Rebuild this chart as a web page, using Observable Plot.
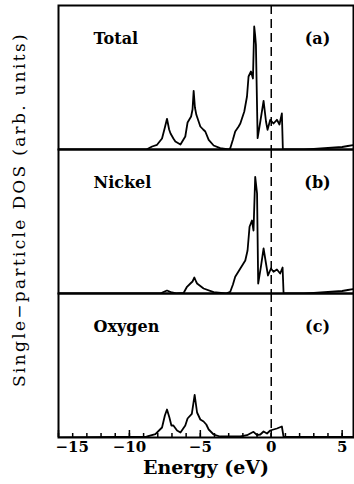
<!DOCTYPE html>
<html><head><meta charset="utf-8">
<script src="https://cdn.jsdelivr.net/npm/d3@7"></script>
<script src="https://cdn.jsdelivr.net/npm/@observablehq/plot@0.6"></script>
<style>html,body{margin:0;padding:0;background:#fff;overflow:hidden}
.ylab text{letter-spacing:2.3px}</style>
</head><body><div id="chart"></div>
<script>
// Panels
const panels = ["Total", "Nickel", "Oxygen"];
const panelTags = ["(a)", "(b)", "(c)"];

// Energy (eV) and DOS (arb. units)
const totalE = [-15, -8.8, -8.4, -8.05, -7.7, -7.5, -7.35, -7.2, -7.1, -6.9, -6.76, -6.4, -6.06, -5.9, -5.65, -5.55, -5.47, -5.38, -5.28, -5.0, -4.8, -4.65, -4.41, -4.06, -3.6, -3.0, -2.89, -2.7, -2.54, -2.3, -2.18, -1.9, -1.71, -1.6, -1.43, -1.29, -1.2, -1.14, -1.08, -0.96, -0.77, -0.54, -0.37, -0.26, -0.07, 0.16, 0.4, 0.58, 0.75, 0.82, 2.3, 3.0, 3.5, 4.0, 4.5, 5.0, 5.4, 5.8];
const totalDOS = [0, 0, 3, 4.7, 11, 22, 30.7, 20, 16, 11, 8, 5, 13, 27, 33, 40, 58.7, 42, 34.7, 23, 20, 18, 9.7, 4, 1.3, 0, 1.3, 10, 18, 23, 26, 38, 53, 73, 78, 71, 123, 115, 104.7, 11.3, 28, 48.7, 28, 19.7, 29.7, 26, 29.7, 25, 36, 0, 0, 0.5, 1, 1.5, 2, 2.5, 3.5, 4.5];

const nickelE = [-15, -7.8, -7.6, -7.35, -7.0, -6.7, -6.17, -5.94, -5.7, -5.55, -5.42, -5.3, -5.23, -4.77, -4.06, -3.2, -2.89, -2.7, -2.54, -2.18, -1.83, -1.67, -1.53, -1.36, -1.25, -1.13, -1.0, -0.92, -0.73, -0.54, -0.37, -0.23, -0.02, 0.16, 0.4, 0.63, 0.8, 0.87, 2.3, 3.0, 3.5, 4.0, 4.5, 5.0, 5.4, 5.8];
const nickelDOS = [0, 0, 1.5, 3, 1, 0, 0.7, 6.7, 10, 12, 16, 12, 10, 5, 1.3, 0, 1.7, 9, 16.7, 25, 33, 43, 66.7, 73, 63, 116.7, 100, 10, 26.7, 45, 30, 18, 25, 21.7, 24, 20, 26, 0, 0, 0.5, 1, 1.5, 2, 2.5, 3.5, 4.5];

const oxygenE = [-15, -8.8, -8.17, -7.7, -7.5, -7.35, -7.18, -7.04, -6.9, -6.64, -6.4, -6.06, -5.9, -5.6, -5.4, -5.23, -5.0, -4.77, -4.58, -4.41, -4.06, -3.6, -2.18, -1.71, -1.25, -1.0, -0.77, -0.54, -0.3, -0.07, 0.16, 0.4, 0.75, 0.87, 5.8];
const oxygenDOS = [0, 0.8, 3.3, 10, 22, 28, 20, 12, 12, 7, 5, 12, 19, 23.7, 42.7, 25, 18, 16, 13, 8, 3, 1, 1, 2.3, 5.7, 2.3, 3, 6, 4, 7, 8, 9, 11, 0.5, 0.5];

// Axis ticks
const minorTicks = d3.range(-15, 6);
const majorTicks = [-15, -10, -5, 0, 5];
const tickLabel = v => v < 0 ? "\u2212" + Math.abs(v) : String(v);

// Build table
const series = [[totalE, totalDOS], [nickelE, nickelDOS], [oxygenE, oxygenDOS]];
const rows = [];
series.forEach(([es, ds], i) => es.forEach((e, j) => rows.push({panel: panels[i], E: e, dos: ds[j]})));
const labels = panels.map((p, i) => ({panel: p, tag: panelTags[i]}));

const W = 354, H = 484, mt = 5, mb = 47, ml = 58, mr = 1;
const facetH = (H - mt - mb) / 3;
const bottom = () => "Oxygen";

const chart = Plot.plot({
  width: W, height: H,
  marginTop: mt, marginBottom: mb, marginLeft: ml, marginRight: mr,
  x: {domain: [-15, 5.8], axis: null},
  y: {domain: [0, 144], axis: null},
  fy: {domain: panels, padding: 0, axis: null},
  style: {fontFamily: "'DejaVu Serif', serif", background: "white", color: "black"},
  marks: [
    Plot.ruleX([0], {stroke: "black", strokeWidth: 1.5, strokeDasharray: "9,5"}),
    Plot.line(rows, {x: "E", y: "dos", fy: "panel", stroke: "black", strokeWidth: 1.8, clip: true}),
    Plot.tickX(minorTicks, {x: d => d, fy: bottom, stroke: "black", strokeWidth: 1.5, insetTop: facetH - 4}),
    Plot.tickX(majorTicks, {x: d => d, fy: bottom, stroke: "black", strokeWidth: 1.5, insetTop: facetH - 7}),
    Plot.frame({stroke: "black", strokeWidth: 2}),
    Plot.text(majorTicks.filter(v => v !== -15), {x: d => d, fy: bottom, text: tickLabel, frameAnchor: "bottom", dy: 14, fontSize: 15, fontWeight: "bold"}),
    Plot.text([-15], {x: d => d, fy: bottom, text: tickLabel, frameAnchor: "bottom", textAnchor: "start", dx: -3, dy: 14, fontSize: 15, fontWeight: "bold"}),
    Plot.text(labels, {fy: "panel", text: "panel", frameAnchor: "top-left", textAnchor: "start", lineAnchor: "middle", dx: 35, dy: 33, fontSize: 16, fontWeight: "bold"}),
    Plot.text(labels, {fy: "panel", text: "tag", frameAnchor: "top-right", textAnchor: "middle", lineAnchor: "middle", dx: -36, dy: 33, fontSize: 16, fontWeight: "bold"}),
    Plot.text(["Energy (eV)"], {fy: bottom, text: d => d, frameAnchor: "bottom", dy: 36, fontSize: 19, fontWeight: "bold"}),
    Plot.text(["Single\u2212particle DOS (arb. units)"], {fy: () => "Nickel", text: d => d, frameAnchor: "left", textAnchor: "middle", lineAnchor: "middle", rotate: -90, dx: -39, dy: -12, fontSize: 17, fill: "black", className: "ylab"})
  ]
});
document.getElementById("chart").appendChild(chart);
</script>
</body></html>
